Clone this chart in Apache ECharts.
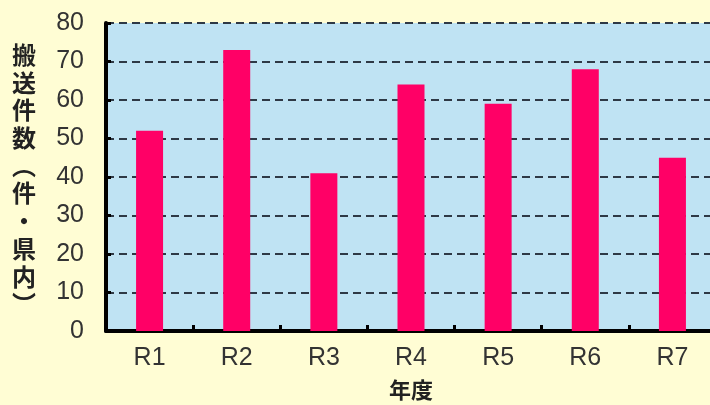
<!DOCTYPE html>
<html><head><meta charset="utf-8">
<script src="https://cdn.jsdelivr.net/npm/echarts@6/dist/echarts.min.js"></script>
<style>html,body{margin:0;padding:0;background:#fffdd4;}#c{width:710px;height:405px;}</style>
</head><body><div id="c"></div>
<script>
const categories = ['R1','R2','R3','R4','R5','R6','R7'];
const values = [52, 73, 41, 64, 59, 68, 45];
const yTicks = [0,10,20,30,40,50,60,70,80];
const yName = ['搬','送','件','数','︵','件','・','県','内','︶'];
const xName = '年度';

const chart = echarts.init(document.getElementById('c'));
chart.setOption({
  backgroundColor: '#fffdd4',
  animation: false,
  grid: { left: 106, right: -6, top: 23, bottom: 74, show: true, backgroundColor: '#bfe3f3', borderWidth: 0, outerBoundsMode: 'none' },
  xAxis: {
    type: 'category', data: categories,
    axisLine: { show: true, lineStyle: { color: '#000', width: 4 } },
    axisTick: { show: true, inside: true, length: 6, lineStyle: { color: '#000', width: 3 } },
    axisLabel: { fontSize: 25, color: '#333', margin: 15, fontFamily: 'Liberation Sans' },
    name: xName, nameLocation: 'middle', nameGap: 48,
    nameTextStyle: { fontSize: 22, fontWeight: 'bold', color: '#222', fontFamily: 'Noto Sans CJK JP' }
  },
  yAxis: {
    type: 'value', min: yTicks[0], max: yTicks[yTicks.length-1], interval: 10,
    axisLine: { show: true, lineStyle: { color: '#000', width: 4 } },
    axisTick: { show: true, inside: true, length: 5, lineStyle: { color: '#000', width: 3 } },
    axisLabel: { fontSize: 25, color: '#333', margin: 22, fontFamily: 'Liberation Sans' },
    splitLine: { show: true, lineStyle: { color: '#2e3945', width: 2, type: [8, 5] } }
  },
  graphic: [{
    type: 'text',
    style: { x: 24, y: 41, text: yName.join('\n'), fontSize: 24, fontWeight: 'bold', lineHeight: 27.7, fill: '#222', fontFamily: 'Noto Sans CJK JP', align: 'center', verticalAlign: 'top' }
  }],
  series: [{
    type: 'bar', data: values, barWidth: 27,
    itemStyle: { color: '#ff0066' }
  }]
});
</script></body></html>
